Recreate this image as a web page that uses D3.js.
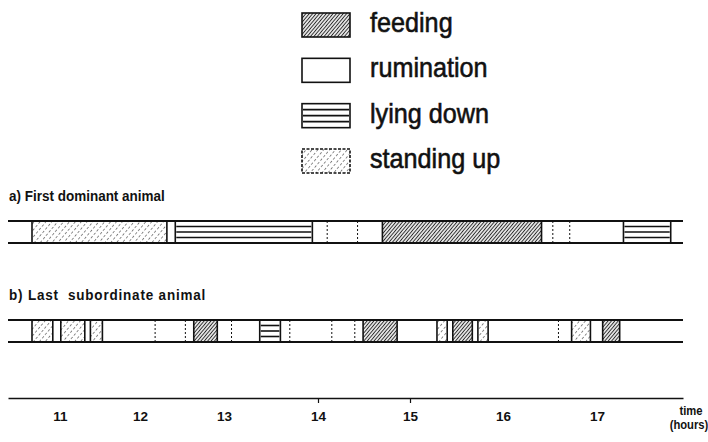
<!DOCTYPE html>
<html>
<head>
<meta charset="utf-8">
<script src="https://cdn.jsdelivr.net/npm/d3@7/dist/d3.min.js"></script>
<style>
  html, body { margin: 0; padding: 0; background: #fff; }
  svg { display: block; font-family: "Liberation Sans", Arial, Helvetica, sans-serif; }
  text { white-space: pre; fill: #111; }
</style>
</head>
<body>
<svg id="chart" width="708" height="442"></svg>
<script>
// Behaviour categories shown in the key
const states = ["feeding", "rumination", "lying down", "standing up"];

// Row titles
const rowTitles = ["a) First dominant animal", "b) Last  subordinate animal"];

// Hour labels on the time axis
const hours = [11, 12, 13, 14, 15, 16, 17];
const markedHours = [14, 15];

// Behaviour bouts: [start hour, end hour, behaviour]
const firstDominant = [
  [10.35, 10.65, "rumination"],
  [10.65, 12.32, "standing up"],
  [12.32, 12.42, "rumination"],
  [12.42, 13.94, "lying down"],
  [13.94, 14.10, "rumination"],
  [14.10, 14.43, "rumination"],
  [14.43, 14.70, "rumination"],
  [14.70, 16.41, "feeding"],
  [16.41, 16.53, "rumination"],
  [16.53, 16.71, "rumination"],
  [16.71, 17.28, "rumination"],
  [17.28, 17.78, "lying down"],
  [17.78, 17.91, "rumination"]
];

const lastSubordinate = [
  [10.35, 10.65, "rumination"],
  [10.65, 10.91, "standing up"],
  [10.91, 11.01, "rumination"],
  [11.01, 11.31, "standing up"],
  [11.31, 11.38, "rumination"],
  [11.38, 11.53, "standing up"],
  [11.53, 12.18, "rumination"],
  [12.18, 12.54, "rumination"],
  [12.54, 12.64, "rumination"],
  [12.64, 12.92, "feeding"],
  [12.92, 13.08, "rumination"],
  [13.08, 13.38, "rumination"],
  [13.38, 13.60, "lying down"],
  [13.60, 13.70, "rumination"],
  [13.70, 14.15, "rumination"],
  [14.15, 14.40, "rumination"],
  [14.40, 14.49, "rumination"],
  [14.49, 14.86, "feeding"],
  [14.86, 15.29, "rumination"],
  [15.29, 15.40, "standing up"],
  [15.40, 15.46, "rumination"],
  [15.46, 15.67, "feeding"],
  [15.67, 15.73, "rumination"],
  [15.73, 15.84, "standing up"],
  [15.84, 16.59, "rumination"],
  [16.59, 16.73, "rumination"],
  [16.73, 16.93, "standing up"],
  [16.93, 17.06, "rumination"],
  [17.06, 17.24, "feeding"],
  [17.24, 17.91, "rumination"]
];

const rows = [
  { key: "a", title: rowTitles[0], bouts: firstDominant },
  { key: "b", title: rowTitles[1], bouts: lastSubordinate }
];

const svg = d3.select("#chart");
const squeeze = 0.9; // narrow typeface look

// Hand-ruled time axis: hour marks are not perfectly evenly spaced
const x = d3.scaleLinear()
  .domain([10.35, 11, 12, 13, 14, 15, 16, 17, 17.91])
  .range([8, 60, 140, 224, 318, 410, 503, 597, 683]);

const y = d3.scalePoint().domain(rows.map(r => r.key)).range([221, 320]);
const bandH = 22;

// ---- fill patterns ----
const defs = svg.append("defs");
function hatch(id, gap, color, width, dash) {
  const p = defs.append("pattern")
    .attr("id", id)
    .attr("patternUnits", "userSpaceOnUse")
    .attr("width", gap).attr("height", gap)
    .attr("patternTransform", "rotate(40)");
  p.append("rect").attr("width", gap).attr("height", gap).attr("fill", "#fff");
  const l = p.append("line")
    .attr("x1", gap / 2).attr("x2", gap / 2)
    .attr("y1", 0).attr("y2", gap)
    .attr("stroke", color).attr("stroke-width", width);
  if (dash) l.attr("stroke-dasharray", dash);
}
hatch("feedFill", 2.6, "#2a2a2a", 1.1);
hatch("standFill", 4.5, "#6a6a6a", 0.8, "2.5,2");

const fillOf = s => s === "feeding" ? "url(#feedFill)"
  : s === "standing up" ? "url(#standFill)" : "#fff";

// Horizontal lines for the lying-down boxes
function lyingLines(g, x0, x1, top, h) {
  const n = Math.max(1, Math.round(h / 5.5) - 1);
  d3.range(1, n + 1).forEach(i => {
    const yy = top + (h * i) / (n + 1);
    g.append("line")
      .attr("x1", x0 + 1).attr("x2", x1 - 1)
      .attr("y1", yy).attr("y2", yy)
      .attr("stroke", "#111").attr("stroke-width", 1.6);
  });
}

// ---- legend ----
const legend = svg.append("g");
const ly = d3.scalePoint().domain(states).range([25, 161]);
states.forEach(s => {
  const cy = ly(s);
  const bx = 302, bw = 48, bh = 24;
  const g = legend.append("g");
  g.append("rect")
    .attr("x", bx).attr("y", cy - bh / 2).attr("width", bw).attr("height", bh)
    .attr("fill", fillOf(s))
    .attr("stroke", "#111").attr("stroke-width", 1.6)
    .attr("stroke-dasharray", s === "standing up" ? "3,1.5" : null);
  if (s === "lying down") lyingLines(g, bx, bx + bw, cy - bh / 2, bh);
  legend.append("text")
    .attr("transform", `translate(370,${cy + 7}) scale(${squeeze},1)`)
    .attr("font-size", 28)
    .attr("stroke", "#111").attr("stroke-width", 0.6)
    .text(s);
});

// ---- behaviour rows ----
rows.forEach(r => {
  const top = y(r.key);
  const g = svg.append("g");

  g.append("text")
    .attr("transform", `translate(9,${top - 20}) scale(${squeeze},1)`)
    .attr("font-size", 15).attr("font-weight", "bold")
    .attr("letter-spacing", r.key === "b" ? 0.9 : 0)
    .text(r.title);

  // box fills
  g.selectAll("rect.bout").data(r.bouts).join("rect")
    .attr("class", "bout")
    .attr("x", d => x(d[0])).attr("y", top)
    .attr("width", d => x(d[1]) - x(d[0])).attr("height", bandH)
    .attr("fill", d => fillOf(d[2]));

  r.bouts.filter(d => d[2] === "lying down")
    .forEach(d => lyingLines(g, x(d[0]), x(d[1]), top, bandH));

  // dividers between bouts
  r.bouts.slice(1).forEach((d, i) => {
    const prev = r.bouts[i];
    const soft = prev[2] === "rumination" && d[2] === "rumination";
    g.append("line")
      .attr("x1", x(d[0])).attr("x2", x(d[0]))
      .attr("y1", top).attr("y2", top + bandH)
      .attr("stroke", "#111")
      .attr("stroke-width", soft ? 1 : 1.6)
      .attr("stroke-dasharray", soft ? "2,2" : null);
  });

  // top and bottom rules across the whole observation period
  const span = d3.extent(r.bouts.flatMap(d => [d[0], d[1]]));
  [top, top + bandH].forEach(yy => {
    g.append("line")
      .attr("x1", x(span[0])).attr("x2", x(span[1]))
      .attr("y1", yy).attr("y2", yy)
      .attr("stroke", "#111").attr("stroke-width", 2);
  });
});

// ---- time axis ----
const axisY = 398;
const axis = svg.append("g")
  .attr("transform", `translate(0,${axisY})`)
  .call(d3.axisBottom(x).tickValues(hours).tickSize(0).tickPadding(13)
    .tickFormat(d3.format("d")));
axis.select(".domain").attr("stroke", "#111").attr("stroke-width", 1.6);
axis.selectAll("text")
  .attr("font-size", 13.5).attr("font-weight", "bold")
  .attr("font-family", "Liberation Sans, Arial, sans-serif")
  .attr("fill", "#111");

svg.append("g")
  .attr("transform", `translate(0,${axisY})`)
  .call(d3.axisBottom(x).tickValues(markedHours).tickSize(5).tickFormat(""))
  .call(g => g.select(".domain").remove())
  .selectAll("line").attr("stroke", "#111").attr("stroke-width", 1.2);

const unit = svg.append("g").attr("font-size", 12.5).attr("font-weight", "bold");
unit.append("text").attr("transform", `translate(691,415) scale(${squeeze},1)`)
  .attr("text-anchor", "middle").text("time");
unit.append("text").attr("transform", `translate(689,429) scale(${squeeze},1)`)
  .attr("text-anchor", "middle").text("(hours)");
</script>
</body>
</html>
